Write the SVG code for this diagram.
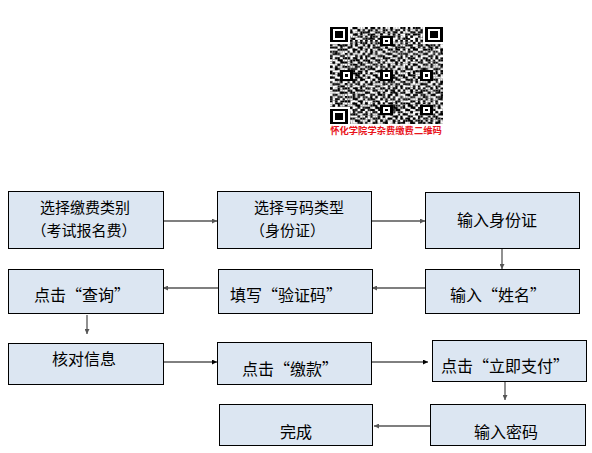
<svg xmlns="http://www.w3.org/2000/svg" width="592" height="453" viewBox="0 0 592 453">
<defs>
<style>
.box{fill:#dce6f2;stroke:#000;stroke-width:1}
.t{font-family:"Noto Sans CJK SC","Liberation Sans",sans-serif;font-size:16px;fill:#000}
.s{font-size:15px}
.c{text-anchor:middle}
.ag{stroke:#555;stroke-width:1.3;fill:none;marker-end:url(#ahg)}
.ab{stroke:#000;stroke-width:1;fill:none;marker-end:url(#ahb)}
.qt{font-family:"Noto Sans CJK SC","Liberation Sans",sans-serif;font-size:9.3px;font-weight:bold;fill:#e8141c;text-anchor:middle}
</style>
<marker id="ahg" markerWidth="5" markerHeight="5" refX="5" refY="2.5" orient="auto" markerUnits="userSpaceOnUse"><path d="M0,0 L5,2.5 L0,5 z" fill="#555"/></marker>
<marker id="ahb" markerWidth="5" markerHeight="5" refX="5" refY="2.5" orient="auto" markerUnits="userSpaceOnUse"><path d="M0,0 L5,2.5 L0,5 z" fill="#000"/></marker>
<pattern id="pa" patternUnits="userSpaceOnUse" width="7" height="7">
<path fill="#000" d="M0 0h1v1h-1z M2 0h2v1h-2z M5 0h1v1h-1z M1 1h1v1h-1z M3 1h2v1h-2z M6 1h1v1h-1z M0 2h2v1h-2z M4 2h2v1h-2z M2 3h2v1h-2z M5 3h2v1h-2z M0 4h1v1h-1z M2 4h1v1h-1z M4 4h1v1h-1z M1 5h3v1h-3z M6 5h1v1h-1z M0 6h1v1h-1z M4 6h2v1h-2z"/>
</pattern>
<pattern id="pb" patternUnits="userSpaceOnUse" width="11" height="11">
<path fill="#fff" d="M1 0h1v1h-1z M4 0h1v1h-1z M8 0h1v1h-1z M3 1h1v1h-1z M6 1h1v1h-1z M9 1h2v1h-2z M0 2h1v1h-1z M5 2h1v1h-1z M7 2h1v1h-1z M2 3h1v1h-1z M4 3h1v1h-1z M8 3h1v1h-1z M1 4h1v1h-1z M6 4h1v1h-1z M9 4h1v1h-1z M0 5h1v1h-1z M3 5h1v1h-1z M7 5h1v1h-1z M10 5h1v1h-1z M2 6h1v1h-1z M5 6h1v1h-1z M8 6h1v1h-1z M4 7h1v1h-1z M6 7h1v1h-1z M9 7h1v1h-1z M0 8h2v1h-2z M7 8h1v1h-1z M3 9h1v1h-1z M5 9h1v1h-1z M10 9h1v1h-1z M2 10h1v1h-1z M6 10h1v1h-1z M8 10h1v1h-1z"/>
</pattern>
<pattern id="pc" patternUnits="userSpaceOnUse" width="5" height="5">
<path fill="#000" d="M4 0h1v1h-1z M1 1h1v1h-1z M3 2h1v1h-1z M0 3h1v1h-1z M2 4h1v1h-1z"/>
</pattern>
<pattern id="tm" patternUnits="userSpaceOnUse" width="2" height="2">
<rect x="0" y="0" width="1" height="1" fill="#000"/><rect x="1" y="1" width="1" height="1" fill="#000"/>
</pattern>
<g id="finder">
<rect x="-1" y="-1" width="9" height="9" fill="#fff"/>
<rect x="0" y="0" width="7" height="7" fill="#000"/>
<rect x="1" y="1" width="5" height="5" fill="#fff"/>
<rect x="2" y="2" width="3" height="3" fill="#000"/>
</g>
<g id="align">
<rect x="-2" y="-2" width="5" height="5" fill="#000"/>
<rect x="-1" y="-1" width="3" height="3" fill="#fff"/>
<rect x="0" y="0" width="1" height="1" fill="#000"/>
</g>
</defs>
<rect width="592" height="453" fill="#fff"/>

<g id="qrcode">
<g transform="translate(330,27) scale(2.511,2.156)" shape-rendering="crispEdges">
<rect x="0" y="0" width="45" height="45" fill="#fff"/>
<rect x="0" y="0" width="45" height="45" fill="url(#pa)"/>
<rect x="0" y="0" width="45" height="45" fill="url(#pb)"/>
<rect x="0" y="0" width="45" height="45" fill="url(#pc)"/>
<rect x="8" y="6" width="29" height="1" fill="#fff"/>
<rect x="8" y="6" width="29" height="1" fill="url(#tm)"/>
<rect x="6" y="8" width="1" height="29" fill="#fff"/>
<rect x="6" y="8" width="1" height="29" fill="url(#tm)"/>
<use href="#align" x="22" y="6"/>
<use href="#align" x="6" y="22"/>
<use href="#align" x="22" y="22"/>
<use href="#align" x="38" y="22"/>
<use href="#align" x="22" y="38"/>
<use href="#align" x="38" y="38"/>
<use href="#finder" x="0" y="0"/>
<use href="#finder" x="38" y="0"/>
<use href="#finder" x="0" y="38"/>
</g>
<text class="qt" x="386" y="134">怀化学院学杂费缴费二维码</text>
</g>

<g id="connectors">
<line class="ag" x1="163" y1="221" x2="217" y2="221"/>
<line class="ag" x1="372" y1="221" x2="425" y2="221"/>
<line class="ag" x1="502" y1="248" x2="502" y2="269"/>
<line class="ag" x1="425" y1="288" x2="372" y2="288"/>
<line class="ag" x1="218" y1="288" x2="163" y2="288"/>
<line class="ag" x1="87" y1="315" x2="87" y2="334"/>
<line class="ab" x1="163" y1="362" x2="217" y2="362"/>
<line class="ab" x1="372" y1="362" x2="428" y2="362"/>
<line class="ag" x1="505" y1="381" x2="505" y2="400"/>
<line class="ag" x1="430" y1="426" x2="374" y2="426"/>
</g>

<g id="n1"><rect class="box" x="8.5" y="191.5" width="155" height="57"/>
<text class="t s c" x="85" y="213">选择缴费类别</text><text class="t s c" x="84" y="236">（考试报名费）</text></g>
<g id="n2"><rect class="box" x="217.5" y="191.5" width="154" height="57"/>
<text class="t s" x="254" y="213">选择号码类型</text><text class="t s" x="250" y="236">（身份证）</text></g>
<g id="n3"><rect class="box" x="425.5" y="192.5" width="154" height="56"/>
<text class="t c" x="497" y="226">输入身份证</text></g>
<g id="n4"><rect class="box" x="425.5" y="269.5" width="154" height="44"/>
<text class="t c" x="498" y="301">输入“姓名”</text></g>
<g id="n5"><rect class="box" x="218.5" y="269.5" width="154" height="44"/>
<text class="t c" x="286" y="301">填写“验证码”</text></g>
<g id="n6"><rect class="box" x="8.5" y="269.5" width="155" height="44"/>
<text class="t c" x="82" y="301">点击“查询”</text></g>
<g id="n7"><rect class="box" x="8.5" y="343.5" width="155" height="41"/>
<text class="t c" x="84" y="365">核对信息</text></g>
<g id="n8"><rect class="box" x="217.5" y="342.5" width="154" height="42"/>
<text class="t c" x="290" y="375">点击“缴款”</text></g>
<g id="n9"><rect class="box" x="432.5" y="340.5" width="154" height="41"/>
<text class="t c" x="505" y="372">点击“立即支付”</text></g>
<g id="n10"><rect class="box" x="430.5" y="404.5" width="155" height="41"/>
<text class="t c" x="506" y="438">输入密码</text></g>
<g id="n11"><rect class="box" x="219.5" y="404.5" width="153" height="41"/>
<text class="t c" x="296" y="438">完成</text></g>
</svg>
